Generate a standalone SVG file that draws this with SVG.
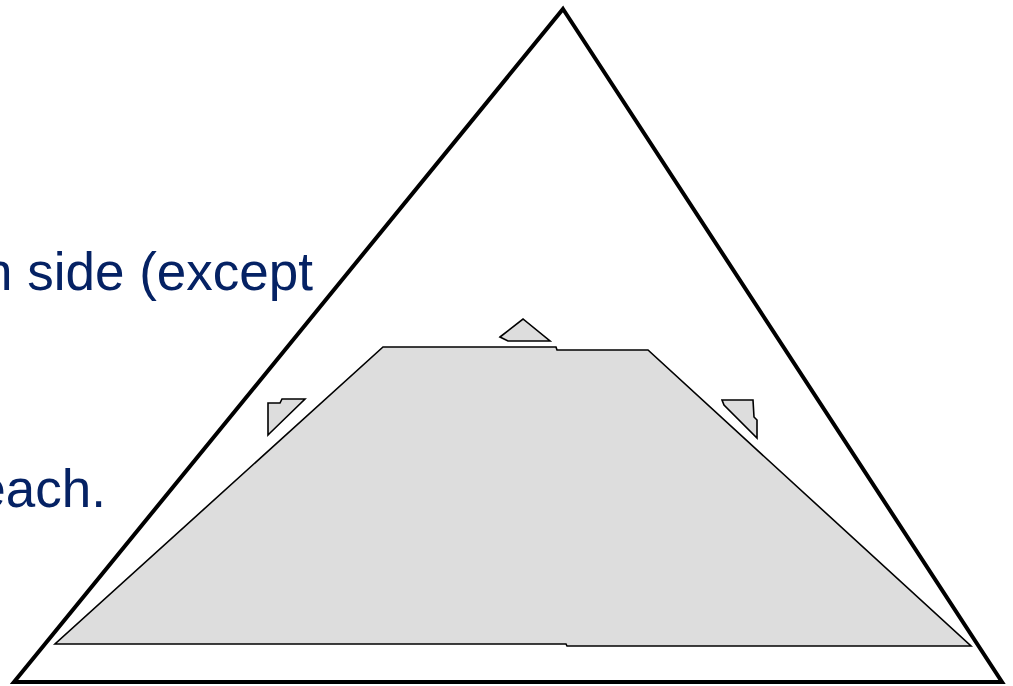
<svg xmlns="http://www.w3.org/2000/svg" width="1013" height="686" viewBox="0 0 1013 686">
<style>
.txt{font-family:"Liberation Sans",Arial,sans-serif;font-size:53px;fill:#052264}
.outer{fill:none;stroke:#000;stroke-width:4;stroke-linejoin:miter}
.shape{fill:#dddddd;stroke:#000;stroke-width:1.6;stroke-linejoin:miter}
</style>
<rect width="1013" height="686" fill="#fff"/>
<g id="text">
<text class="txt" x="313" y="290" text-anchor="end">n side (except</text>
<text class="txt" x="106" y="507" text-anchor="end">each.</text>
</g>
<g id="outer-triangle">
<polygon class="outer" points="563,9 1002,682 14,682"/>
</g>
<g id="trapezoid">
<polygon class="shape" points="383,347 556,347 557,350 648,350 971,646 567,646 566,644 55,644"/>
</g>
<g id="small-top">
<polygon class="shape" points="500,337 523,319 550,341 508,341"/>
</g>
<g id="small-left">
<polygon class="shape" points="268,403 280,403 282,399 305,399 270,433 268,435"/>
</g>
<g id="small-right">
<polygon class="shape" points="722,400 753,400 754,417 757,420 757,438 724,405"/>
</g>
</svg>
